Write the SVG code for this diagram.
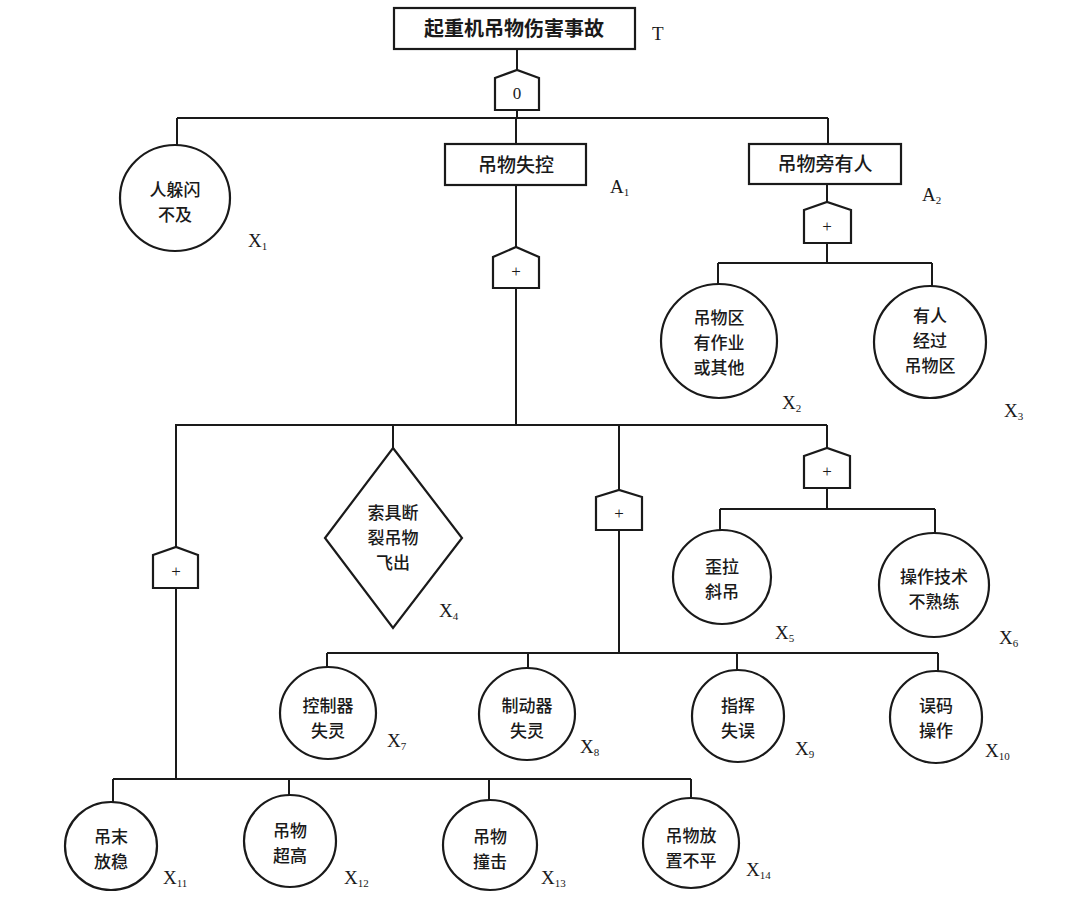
<svg xmlns="http://www.w3.org/2000/svg" width="1067" height="917" viewBox="0 0 1067 917">
<style>
.ln{fill:none;stroke:#1a1a1a;stroke-width:2}
.sh{fill:#fff;stroke:#1a1a1a;stroke-width:2.2}
.cn{font-family:"Noto Sans CJK SC",sans-serif;font-size:19px;font-weight:500;fill:#1a1a1a;text-anchor:middle}
.tt{font-size:20px;font-weight:bold}
.cs{font-family:"Noto Sans CJK SC",sans-serif;font-size:17px;font-weight:500;fill:#1a1a1a;text-anchor:middle}
.lb{font-family:"Liberation Serif",serif;font-size:19px;fill:#1a1a1a}
.sb{font-size:11px}
.gt{font-family:"Liberation Serif",serif;font-size:17px;fill:#1a1a1a;text-anchor:middle}
</style>
<rect width="1067" height="917" fill="#fff"/>
<g id="connectors" class="ln">
<path d="M517 49V70M517 110V118M177 118H828M177 118V145M516 118V144M828 118V144"/>
<path d="M516 185V247M516 288V425M175 425H827M176 425V547M393 425V448M619 425V490M827 425V448"/>
<path d="M827 184V202M827 243V263M718 263H932M718 263V284M932 263V286"/>
<path d="M827 488V509M720 509H935M720 509V530M935 509V533"/>
<path d="M619 530V653M327 653H938M327 653V668M528 653V668M737 653V671M938 653V672"/>
<path d="M176 588V779M113 779H691M113 779V803M289 779V796M489 779V800M691 779V798"/>
</g>
<g id="T"><rect class="sh" x="394" y="8" width="241" height="41"/><text class="cn tt" x="514" y="36">起重机吊物伤害事故</text><text class="lb" x="652" y="40">T</text></g>
<g id="G0"><path class="sh" d="M495 110V78L517 70L539 78V110Z"/><text class="gt" x="517" y="99">0</text></g>
<g id="X1"><ellipse class="sh" cx="175" cy="198" rx="55" ry="53"/><text class="cs" x="175" y="196">人躲闪<tspan x="175" dy="25">不及</tspan></text><text class="lb" x="248" y="247">X<tspan class="sb" dy="3">1</tspan></text></g>
<g id="A1"><rect class="sh" x="445" y="144" width="141" height="41"/><text class="cn" x="516" y="172">吊物失控</text><text class="lb" x="610" y="193">A<tspan class="sb" dy="3">1</tspan></text></g>
<g id="G1"><path class="sh" d="M493 288V257L516 247L539 257V288Z"/><text class="gt" x="516" y="277">+</text></g>
<g id="A2"><rect class="sh" x="749" y="144" width="152" height="40"/><text class="cn" x="825" y="171">吊物旁有人</text><text class="lb" x="922" y="201">A<tspan class="sb" dy="3">2</tspan></text></g>
<g id="G2"><path class="sh" d="M804 243V210L827 202L851 210V243Z"/><text class="gt" x="827" y="232">+</text></g>
<g id="X2"><ellipse class="sh" cx="719" cy="341" rx="58" ry="57"/><text class="cs" x="719" y="324">吊物区<tspan x="719" dy="25">有作业</tspan><tspan x="719" dy="25">或其他</tspan></text><text class="lb" x="782" y="409">X<tspan class="sb" dy="3">2</tspan></text></g>
<g id="X3"><ellipse class="sh" cx="930" cy="342" rx="56" ry="56"/><text class="cs" x="930" y="322">有人<tspan x="930" dy="25">经过</tspan><tspan x="930" dy="25">吊物区</tspan></text><text class="lb" x="1004" y="417">X<tspan class="sb" dy="3">3</tspan></text></g>
<g id="G3"><path class="sh" d="M153 588V555L176 547L198 555V588Z"/><text class="gt" x="176" y="577">+</text></g>
<g id="X4"><path class="sh" d="M393 448L462 538L393 628L325 538Z"/><text class="cs" x="393" y="519">索具断<tspan x="393" dy="25">裂吊物</tspan><tspan x="393" dy="25">飞出</tspan></text><text class="lb" x="439" y="617">X<tspan class="sb" dy="3">4</tspan></text></g>
<g id="G4"><path class="sh" d="M596 530V497L619 490L642 497V530Z"/><text class="gt" x="619" y="519">+</text></g>
<g id="G5"><path class="sh" d="M804 488V456L827 448L850 456V488Z"/><text class="gt" x="827" y="477">+</text></g>
<g id="X5"><ellipse class="sh" cx="722" cy="577" rx="49" ry="47"/><text class="cs" x="722" y="573">歪拉<tspan x="722" dy="25">斜吊</tspan></text><text class="lb" x="775" y="639">X<tspan class="sb" dy="3">5</tspan></text></g>
<g id="X6"><ellipse class="sh" cx="934" cy="585" rx="55" ry="52"/><text class="cs" x="934" y="583">操作技术<tspan x="934" dy="25">不熟练</tspan></text><text class="lb" x="999" y="644">X<tspan class="sb" dy="3">6</tspan></text></g>
<g id="X7"><ellipse class="sh" cx="328" cy="713" rx="48" ry="46"/><text class="cs" x="328" y="712">控制器<tspan x="328" dy="25">失灵</tspan></text><text class="lb" x="387" y="747">X<tspan class="sb" dy="3">7</tspan></text></g>
<g id="X8"><ellipse class="sh" cx="527" cy="714" rx="48" ry="46"/><text class="cs" x="527" y="712">制动器<tspan x="527" dy="25">失灵</tspan></text><text class="lb" x="580" y="753">X<tspan class="sb" dy="3">8</tspan></text></g>
<g id="X9"><ellipse class="sh" cx="738" cy="716" rx="46" ry="46"/><text class="cs" x="738" y="712">指挥<tspan x="738" dy="25">失误</tspan></text><text class="lb" x="795" y="755">X<tspan class="sb" dy="3">9</tspan></text></g>
<g id="X10"><ellipse class="sh" cx="936" cy="717" rx="46" ry="46"/><text class="cs" x="936" y="712">误码<tspan x="936" dy="25">操作</tspan></text><text class="lb" x="985" y="757">X<tspan class="sb" dy="3">10</tspan></text></g>
<g id="X11"><ellipse class="sh" cx="111" cy="846" rx="46" ry="44"/><text class="cs" x="111" y="843">吊末<tspan x="111" dy="25">放稳</tspan></text><text class="lb" x="163" y="884">X<tspan class="sb" dy="3">11</tspan></text></g>
<g id="X12"><ellipse class="sh" cx="290" cy="841" rx="46" ry="46"/><text class="cs" x="290" y="837">吊物<tspan x="290" dy="25">超高</tspan></text><text class="lb" x="344" y="884">X<tspan class="sb" dy="3">12</tspan></text></g>
<g id="X13"><ellipse class="sh" cx="490" cy="845" rx="47" ry="45"/><text class="cs" x="490" y="843">吊物<tspan x="490" dy="25">撞击</tspan></text><text class="lb" x="541" y="884">X<tspan class="sb" dy="3">13</tspan></text></g>
<g id="X14"><ellipse class="sh" cx="691" cy="843" rx="48" ry="45"/><text class="cs" x="691" y="842">吊物放<tspan x="691" dy="25">置不平</tspan></text><text class="lb" x="746" y="876">X<tspan class="sb" dy="3">14</tspan></text></g>
</svg>
